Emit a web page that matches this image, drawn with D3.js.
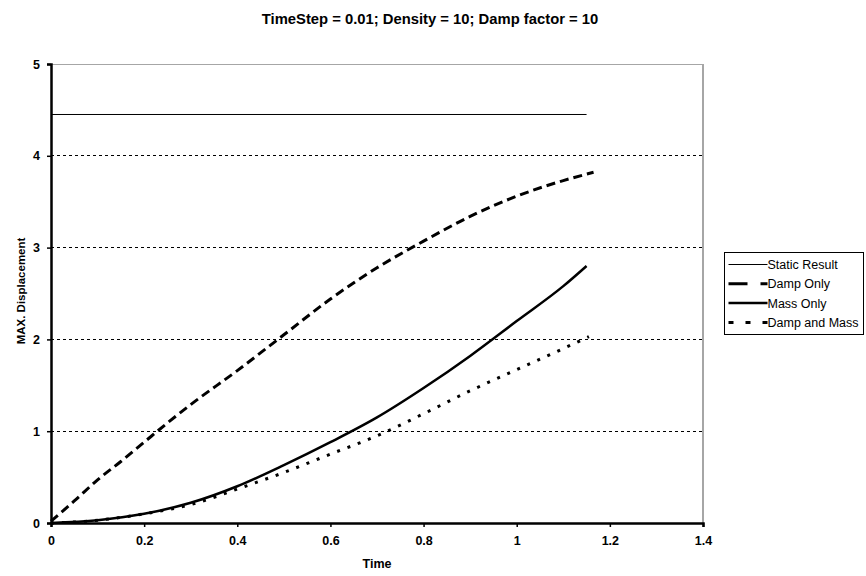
<!DOCTYPE html>
<html>
<head>
<meta charset="utf-8">
<script src="https://cdn.jsdelivr.net/npm/d3@7"></script>
<style>
  body { margin: 0; background: #fff; }
  svg { display: block; font-family: Arial, "Liberation Sans", sans-serif; }
</style>
</head>
<body>
<div id="chart"></div>
<script>
// Data
const seriesNames = ["Static Result", "Damp Only", "Mass Only", "Damp and Mass"];
const staticResult = [[0, 4.45], [1.15, 4.45]];
const dampOnly = [
  [0, 0.02], [0.05, 0.24], [0.1, 0.47], [0.15, 0.67], [0.2, 0.88], [0.25, 1.09],
  [0.3, 1.29], [0.4, 1.66], [0.5, 2.05], [0.6, 2.44], [0.7, 2.78], [0.8, 3.07],
  [0.9, 3.34], [1.0, 3.56], [1.1, 3.73], [1.165, 3.82]
];
const massOnly = [
  [0, 0], [0.1, 0.03], [0.2, 0.10], [0.3, 0.22], [0.4, 0.40], [0.5, 0.63],
  [0.6, 0.88], [0.7, 1.15], [0.8, 1.47], [0.9, 1.82], [1.0, 2.20], [1.1, 2.58], [1.15, 2.80]
];
const dampAndMass = [
  [0, 0], [0.1, 0.03], [0.2, 0.10], [0.3, 0.20], [0.4, 0.37], [0.5, 0.55],
  [0.6, 0.75], [0.7, 0.95], [0.8, 1.19], [0.9, 1.44], [1.0, 1.67], [1.1, 1.90], [1.155, 2.03]
];
const xTicks = [0, 0.2, 0.4, 0.6, 0.8, 1, 1.2, 1.4];
const yTicks = [0, 1, 2, 3, 4, 5];
const gridValues = [1, 2, 3, 4];

const W = 866, H = 576;
const m = { left: 51, right: 163, top: 64, bottom: 53 };

const svg = d3.select("#chart").append("svg")
  .attr("width", W).attr("height", H);

const x = d3.scaleLinear().domain([0, 1.4]).range([m.left, W - m.right]);
const y = d3.scaleLinear().domain([0, 5]).range([H - m.bottom, m.top]);

// Title
svg.append("text")
  .attr("x", 430).attr("y", 24)
  .attr("text-anchor", "middle")
  .style("font-size", "14.8px").style("font-weight", "bold")
  .text("TimeStep = 0.01; Density = 10; Damp factor = 10");

// Grid
svg.append("g").selectAll("line").data(gridValues).join("line")
  .attr("x1", x(0)).attr("x2", x(1.4))
  .attr("y1", d => y(d)).attr("y2", d => y(d))
  .attr("stroke", "#000").attr("stroke-width", 1)
  .attr("stroke-dasharray", "3,3")
  .attr("shape-rendering", "crispEdges");

// plot frame (top / right are gray)
svg.append("line")
  .attr("x1", x(0)).attr("x2", x(1.4)).attr("y1", y(5)).attr("y2", y(5))
  .attr("stroke", "#a6a6a6").attr("stroke-width", 1).attr("shape-rendering", "crispEdges");
svg.append("line")
  .attr("x1", x(1.4)).attr("x2", x(1.4)).attr("y1", y(5)).attr("y2", y(0))
  .attr("stroke", "#a6a6a6").attr("stroke-width", 2).attr("shape-rendering", "crispEdges");

// Axes
const xAxis = svg.append("g")
  .attr("transform", `translate(0,${y(0)})`)
  .call(d3.axisBottom(x).tickValues(xTicks).tickSize(4).tickPadding(9).tickFormat(d3.format("")));
const yAxis = svg.append("g")
  .attr("transform", `translate(${x(0)},0)`)
  .call(d3.axisLeft(y).tickValues(yTicks).tickSize(4).tickPadding(7).tickFormat(d3.format("d")));
[xAxis, yAxis].forEach(a => {
  a.select(".domain").attr("stroke", "#000").attr("stroke-width", 2.5);
  a.selectAll(".tick line").attr("stroke", "#000").attr("stroke-width", 1.5);
  a.selectAll(".tick text")
    .style("font-size", "12.5px").style("font-weight", "bold")
    .style("font-family", "Arial, 'Liberation Sans', sans-serif").attr("fill", "#000");
});

// Axis titles
svg.append("text")
  .attr("x", 377).attr("y", 568)
  .attr("text-anchor", "middle")
  .style("font-size", "12.5px").style("font-weight", "bold")
  .text("Time");
svg.append("text")
  .attr("transform", "translate(25,291) rotate(-90)")
  .attr("text-anchor", "middle")
  .style("font-size", "11.5px").style("font-weight", "bold")
  .text("MAX. Displacement");

// Lines
const line = d3.line().x(d => x(d[0])).y(d => y(d[1])).curve(d3.curveMonotoneX);
const styles = [
  { data: staticResult, width: 1, dash: null },
  { data: dampOnly, width: 3, dash: "9,5" },
  { data: massOnly, width: 2.5, dash: null },
  { data: dampAndMass, width: 3, dash: "3,8" }
];
svg.append("g").selectAll("path").data(styles).join("path")
  .attr("d", d => line(d.data))
  .attr("fill", "none")
  .attr("stroke", "#000")
  .attr("stroke-width", d => d.width)
  .attr("stroke-dasharray", d => d.dash);

// Legend
const lg = svg.append("g").attr("transform", "translate(724.5,252.5)");
lg.append("rect").attr("width", 139).attr("height", 82)
  .attr("fill", "#fff").attr("stroke", "#000").attr("stroke-width", 1);
const legendDash = [null, "19,13,7", null, "5,12,5,12,5"];
const item = lg.selectAll("g.item").data(seriesNames).join("g")
  .attr("class", "item")
  .attr("transform", (d, i) => `translate(0,${12 + i * 19.3})`);
item.append("line")
  .attr("x1", 4).attr("x2", 43).attr("y1", 0).attr("y2", 0)
  .attr("stroke", "#000")
  .attr("stroke-width", (d, i) => styles[i].width)
  .attr("stroke-dasharray", (d, i) => legendDash[i]);
item.append("text")
  .attr("x", 43).attr("y", 4.5)
  .style("font-size", "12.5px")
  .text(d => d);
</script>
</body>
</html>
